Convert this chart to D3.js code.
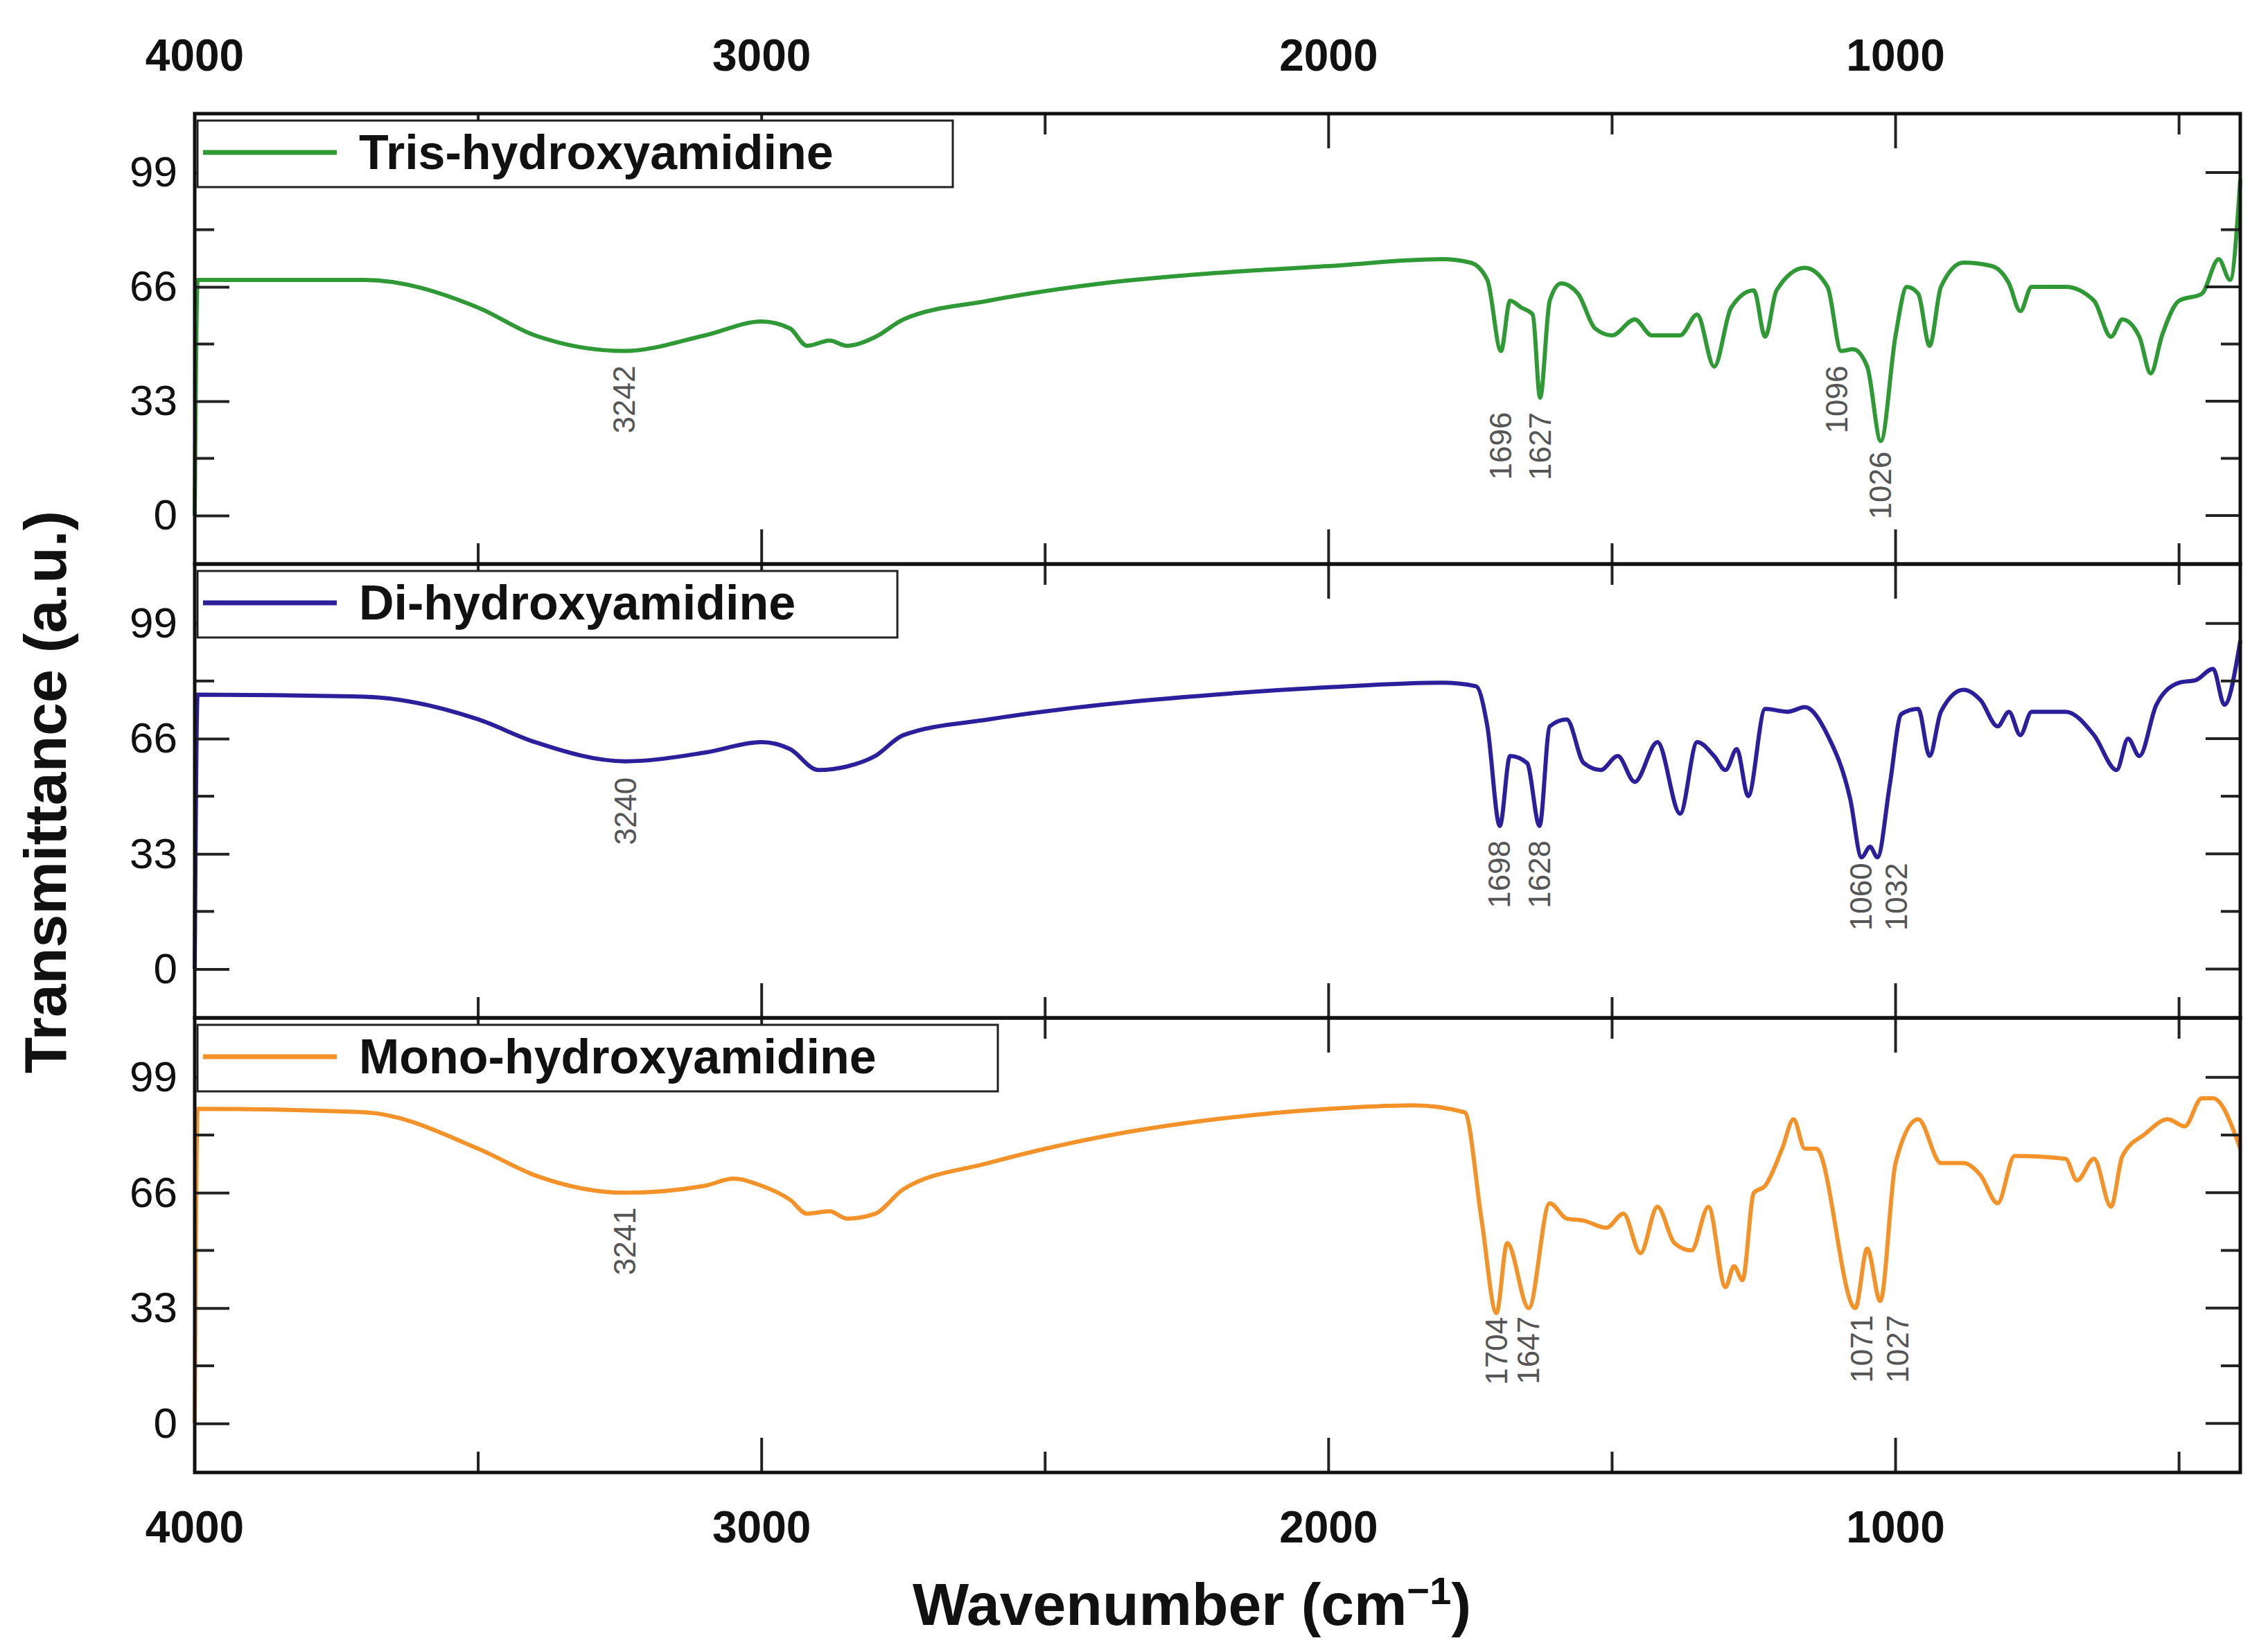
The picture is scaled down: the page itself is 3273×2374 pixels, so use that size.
<!DOCTYPE html>
<html><head><meta charset="utf-8">
<script src="https://cdn.jsdelivr.net/npm/d3@7"></script>
<style>body{margin:0;background:#fff}svg{display:block}</style></head>
<body><svg id="c" width="3273" height="2374"></svg>
<script>
const xTicks=[4000,3000,2000,1000];
const yTicks=[0,33,66,99];
const names=["Tris-hydroxyamidine","Di-hydroxyamidine","Mono-hydroxyamidine"];
const colors=["#2f9a35","#2c1f9c","#f39229"];
const tris=[[4000,0],[3995,68],[3700,68],[3500,60],[3400,52],[3242,47.5],[3100,52],[3000,56],[2950,54],[2920,49],[2880,50.5],[2850,49],[2800,51.5],[2750,56.6],[2600,62],[2400,67],[2200,70],[2000,72],[1800,74],[1750,73],[1720,68],[1696,47.5],[1680,62],[1660,60],[1640,58],[1627,34],[1610,62],[1590,67],[1560,64],[1530,54],[1500,52],[1460,56.6],[1430,52],[1380,52],[1350,58],[1320,43],[1290,60],[1250,65],[1230,51.6],[1210,65],[1160,71.5],[1120,66],[1096,47.5],[1075,48],[1050,43],[1026,21.5],[1000,52],[980,66],[960,64],[940,49],[920,66],[880,73],[830,72],[800,67],[780,59],[760,66],[700,66],[650,62],[620,51.6],[600,56.6],[570,51.6],[550,41],[530,52],[500,62],[460,64],[430,74],[410,68],[392,97]];
const di=[[4000,0],[3995,78.6],[3700,78],[3500,71.5],[3400,65],[3240,59.5],[3100,62],[3000,65],[2950,63],[2900,57],[2850,58],[2800,61],[2750,67],[2600,71.5],[2400,75.7],[2200,78.6],[2000,80.7],[1800,82],[1740,81],[1720,69.5],[1698,41],[1680,61],[1650,59],[1628,41],[1610,69.5],[1580,71.5],[1550,59],[1520,57],[1490,61],[1460,53.6],[1420,65],[1380,44.5],[1350,65],[1320,61],[1300,57],[1280,63],[1260,49.5],[1230,74.5],[1190,73.7],[1160,75],[1120,67],[1080,48.7],[1060,32],[1045,35],[1032,32],[1010,53],[990,73],[960,74.5],[940,61],[920,73.7],[880,80],[850,77],[820,69.5],[800,73.7],[780,67],[760,73.7],[700,73.7],[650,67],[610,57],[590,66],[570,61],[540,75.7],[500,82],[470,82.8],[440,86],[420,75.7],[392,94]];
const mono=[[4000,0],[3995,90],[3700,89],[3500,78.6],[3400,71],[3241,66],[3100,68],[3050,70],[3000,68],[2950,64],[2920,60],[2880,60.7],[2850,58.6],[2800,60],[2750,67],[2600,74.5],[2400,82],[2200,87],[2000,90],[1850,91],[1760,89],[1730,58],[1704,31.6],[1685,51.6],[1647,33],[1610,63],[1580,58.6],[1550,58],[1510,56],[1480,60],[1450,48.7],[1420,62],[1390,51.6],[1360,49.5],[1330,62],[1300,39],[1285,45],[1270,41],[1250,66],[1230,68],[1200,78.6],[1180,87],[1160,78.6],[1140,78.6],[1071,33],[1050,50],[1027,35],[1000,74.5],[960,87],[920,74.5],[880,74.5],[850,71],[820,63],[790,76.5],[700,75.7],[680,69.5],[650,75.7],[620,62],[600,76.5],[560,82.8],[520,87],[490,85],[460,93],[440,93],[392,78.6]];
const series=[tris,di,mono];
const peaks=[[[3242,47.5,"3242"],[1696,47.5,"1696"],[1627,34,"1627"],[1096,47.5,"1096"],[1026,21.5,"1026"]],
 [[3240,59.5,"3240"],[1698,41,"1698"],[1628,41,"1628"],[1060,32,"1060"],[1032,32,"1032"]],
 [[3241,66,"3241"],[1704,31.6,"1704"],[1647,33,"1647"],[1071,33,"1071"],[1027,35,"1027"]]];
// label offsets (px): [dx, dy below peak]
const peakOff=[[[0,21],[0,88],[0,21],[-6,21],[0,15]],
 [[0,23],[0,21],[0,21],[0,8],[28,8]],
 [[0,21],[0,6],[0,12],[10,10],[26,20]]];

const svg=d3.select("#c");
const F="Liberation Sans, Arial";
const L=281,R=3233,tops=[164,814,1469],bots=[814,1469,2125];
const x=d3.scaleLinear().domain([4000,392]).range([L,R]);
const legW=[1090,1010,1155];
tops.forEach((t,i)=>{
  const y=d3.scaleLinear().domain([-14,116]).range([bots[i],t]);
  const g=svg.append("g");
  const line=d3.line().x(d=>x(d[0])).y(d=>y(d[1])).curve(d3.curveMonotoneX);
  g.append("path").datum(series[i]).attr("d",line).attr("fill","none").attr("stroke",colors[i]).attr("stroke-width",6).attr("stroke-linejoin","round");
  const ya=d3.axisLeft(y).tickValues(yTicks).tickSize(-50).tickPadding(25).tickFormat(d3.format("d"));
  const yg=g.append("g").attr("transform",`translate(${L},0)`).call(ya);
  yg.select(".domain").remove();
  yg.selectAll("line").attr("stroke","#222").attr("stroke-width",4);
  yg.selectAll("text").attr("font-family",F).attr("font-size",62).attr("fill","#111");
  [16.5,49.5,82.5].forEach(v=>{g.append("line").attr("x1",L).attr("x2",L+28).attr("y1",y(v)).attr("y2",y(v)).attr("stroke","#222").attr("stroke-width",4);
    g.append("line").attr("x1",R).attr("x2",R-28).attr("y1",y(v)).attr("y2",y(v)).attr("stroke","#222").attr("stroke-width",4);});
  yTicks.forEach(v=>g.append("line").attr("x1",R).attr("x2",R-50).attr("y1",y(v)).attr("y2",y(v)).attr("stroke","#222").attr("stroke-width",4));
  const xs=[];for(let v=4000;v>=500;v-=500)xs.push(v);
  xs.forEach(v=>{const big=v%1000===0;const len=big?50:30;
    g.append("line").attr("x1",x(v)).attr("x2",x(v)).attr("y1",bots[i]).attr("y2",bots[i]-len).attr("stroke","#222").attr("stroke-width",4);
    g.append("line").attr("x1",x(v)).attr("x2",x(v)).attr("y1",t).attr("y2",t+len).attr("stroke","#222").attr("stroke-width",4);});
  g.append("rect").attr("x",L).attr("y",t).attr("width",R-L).attr("height",bots[i]-t).attr("fill","none").attr("stroke","#111").attr("stroke-width",5);
  g.append("rect").attr("x",L+4).attr("y",t+10).attr("width",legW[i]).attr("height",96).attr("fill","#fff").attr("stroke","#222").attr("stroke-width",3);
  g.append("line").attr("x1",L+12).attr("x2",L+205).attr("y1",t+56).attr("y2",t+56).attr("stroke",colors[i]).attr("stroke-width",7);
  g.append("text").attr("x",L+237).attr("y",t+80).text(names[i]).attr("font-family",F).attr("font-weight","bold").attr("font-size",70).attr("fill","#111");
  peaks[i].forEach((p,k)=>{
    const o=peakOff[i][k];
    const px=x(p[0])+o[0],py=y(p[1])+o[1];
    g.append("text").attr("transform",`translate(${px+15},${py}) rotate(-90)`).attr("text-anchor","end").text(p[2]).attr("font-family",F).attr("font-size",44).attr("fill","#555");
  });
});
xTicks.forEach(v=>{
  svg.append("text").attr("x",x(v)).attr("y",102).attr("text-anchor","middle").text(v).attr("font-family",F).attr("font-weight","bold").attr("font-size",64).attr("fill","#111");
  svg.append("text").attr("x",x(v)).attr("y",2226).attr("text-anchor","middle").text(v).attr("font-family",F).attr("font-weight","bold").attr("font-size",64).attr("fill","#111");
});
svg.append("text").attr("x",1720).attr("y",2345).attr("text-anchor","middle").attr("font-family",F).attr("font-weight","bold").attr("font-size",86).attr("fill","#111").html("Wavenumber (cm<tspan dy='-30' font-size='56'>−1</tspan><tspan dy='30'>)</tspan>");
svg.append("text").attr("transform","translate(95,1143) rotate(-90)").attr("text-anchor","middle").attr("font-family",F).attr("font-weight","bold").attr("font-size",86).attr("fill","#111").text("Transmittance (a.u.)");
</script></body></html>
